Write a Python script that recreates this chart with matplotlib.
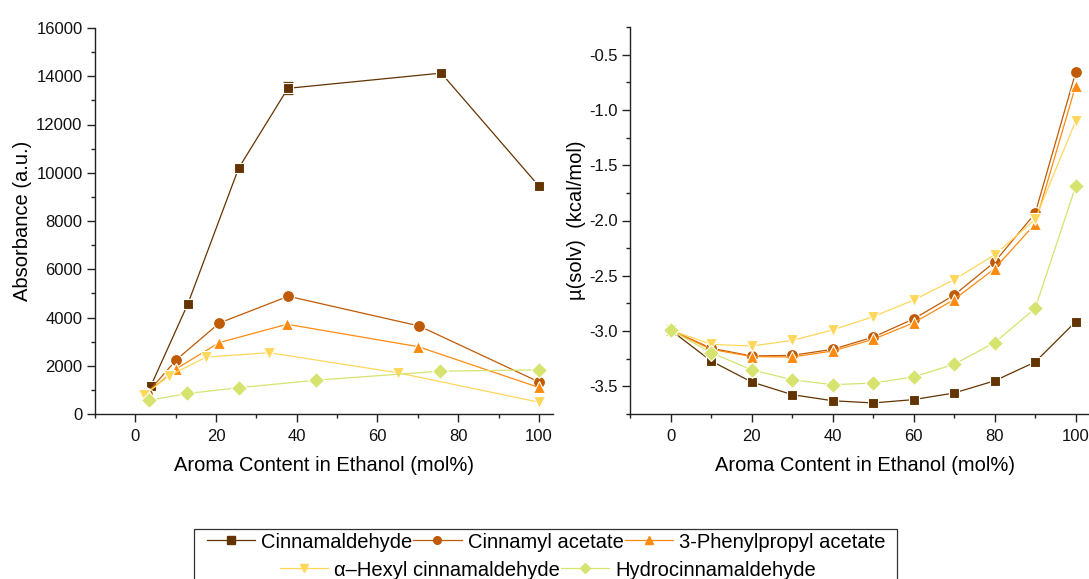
import matplotlib
matplotlib.use("Agg")
import matplotlib.pyplot as plt
from matplotlib.lines import Line2D
from matplotlib.patches import Rectangle
from matplotlib.ticker import MultipleLocator
import numpy as np

plt.rcParams['font.family'] = ['Liberation Sans', 'DejaVu Sans']
plt.rcParams['axes.unicode_minus'] = False

# ---- series names and colours ----
names = ["Cinnamaldehyde", "Cinnamyl acetate", "3-Phenylpropyl acetate",
         "\u03b1\u2013Hexyl cinnamaldehyde", "Hydrocinnamaldehyde"]
colors = ["#633400", "#BF5A05", "#FF8A10", "#FFD75A", "#D6E36E"]
markers = ["s", "o", "^", "v", "D"]

# ---- absorbance vs. aroma content (each compound has its own mole fractions) ----
abs_x_cinnamaldehyde = [3.8, 13.0, 25.6, 37.8, 75.8, 100]
abs_y_cinnamaldehyde = [1150, 4560, 10190, 13500, 14130, 9450]
abs_err_cinnamaldehyde = [0, 0, 0, 250, 0, 0]

abs_x_cinnamyl = [2.8, 10.1, 20.8, 37.9, 70.3, 100]
abs_y_cinnamyl = [840, 2240, 3770, 4880, 3650, 1330]
abs_err_cinnamyl = [120, 0, 0, 0, 0, 0]

abs_x_phenylpropyl = [2.8, 10.1, 20.8, 37.6, 70.1, 100]
abs_y_phenylpropyl = [860, 1870, 2960, 3720, 2790, 1100]

abs_x_hexyl = [2.2, 8.4, 17.6, 33.2, 65.0, 100]
abs_y_hexyl = [790, 1590, 2360, 2540, 1710, 490]

abs_x_hydro = [3.5, 12.9, 25.7, 44.7, 75.4, 100]
abs_y_hydro = [570, 850, 1090, 1400, 1775, 1830]

# ---- solvation chemical potential vs. aroma content ----
mu_x = [0, 10, 20, 30, 40, 50, 60, 70, 80, 90, 100]
mu_cinnamaldehyde = [-2.99, -3.27, -3.46, -3.575, -3.63, -3.65, -3.62, -3.56, -3.45, -3.28, -2.915]
mu_cinnamyl = [-2.99, -3.155, -3.225, -3.22, -3.165, -3.055, -2.89, -2.675, -2.375, -1.935, -0.66]
mu_phenylpropyl = [-2.99, -3.165, -3.23, -3.235, -3.18, -3.075, -2.925, -2.715, -2.435, -2.03, -0.78]
mu_hexyl = [-2.99, -3.12, -3.135, -3.085, -2.99, -2.87, -2.72, -2.535, -2.31, -1.99, -1.10]
mu_hydro = [-2.99, -3.195, -3.35, -3.44, -3.485, -3.47, -3.415, -3.30, -3.105, -2.795, -1.69]

abs_sets = [
    (abs_x_cinnamaldehyde, abs_y_cinnamaldehyde, abs_err_cinnamaldehyde),
    (abs_x_cinnamyl, abs_y_cinnamyl, abs_err_cinnamyl),
    (abs_x_phenylpropyl, abs_y_phenylpropyl, None),
    (abs_x_hexyl, abs_y_hexyl, None),
    (abs_x_hydro, abs_y_hydro, None),
]
mu_sets = [mu_cinnamaldehyde, mu_cinnamyl, mu_phenylpropyl, mu_hexyl, mu_hydro]

W, H = 1089, 579
fig = plt.figure(figsize=(W / 100, H / 100), dpi=100)


def px_rect(left, top, right, bottom):
    return [left / W, 1 - bottom / H, (right - left) / W, (bottom - top) / H]


ax1 = fig.add_axes(px_rect(95, 28, 553, 414))
ax2 = fig.add_axes(px_rect(630, 27, 1100, 414))

sizes = {"s": 7.3, "o": 8.6, "^": 9.2, "v": 9.2, "D": 7.8}
for i, (xs, ys, err) in enumerate(abs_sets):
    ax1.plot(xs, ys, color=colors[i], lw=0.9, marker=markers[i],
             ms=sizes[markers[i]], mec="white", mew=0.8, mfc=colors[i],
             zorder=3 + i)
    if err is not None:
        e = np.array(err, dtype=float)
        keep = e > 0
        ax1.errorbar(np.array(xs)[keep], np.array(ys)[keep], yerr=e[keep],
                     fmt="none", ecolor=colors[i], elinewidth=0.9,
                     capsize=3.5, capthick=0.9, zorder=2.5 + i)

for i, ys in enumerate(mu_sets):
    ax2.plot(mu_x, ys, color=colors[i], lw=0.9, marker=markers[i],
             ms=sizes[markers[i]], mec="white", mew=0.8, mfc=colors[i],
             zorder=3 + i)

ax1.set_xlim(-10, 103.5)
ax1.set_ylim(0, 16000)
ax1.xaxis.set_major_locator(MultipleLocator(20))
ax1.xaxis.set_minor_locator(MultipleLocator(10))
ax1.yaxis.set_major_locator(MultipleLocator(2000))
ax1.yaxis.set_minor_locator(MultipleLocator(1000))
ax1.set_ylabel("Absorbance (a.u.)", fontsize=14.5, labelpad=3)

ax2.set_xlim(-10, 106)
ax2.set_ylim(-3.75, -0.25)
ax2.xaxis.set_major_locator(MultipleLocator(20))
ax2.xaxis.set_minor_locator(MultipleLocator(10))
ax2.yaxis.set_major_locator(MultipleLocator(0.5))
ax2.yaxis.set_minor_locator(MultipleLocator(0.25))
ax2.yaxis.set_major_formatter(plt.FormatStrFormatter("%.1f"))
ax2.set_ylabel("\u00b5(solv)  (kcal/mol)", fontsize=14.5, labelpad=2)

for ax in (ax1, ax2):
    for s in ("top", "right"):
        ax.spines[s].set_visible(False)
    for s in ("left", "bottom"):
        ax.spines[s].set_linewidth(1.0)
        ax.spines[s].set_color("#222222")
    ax.tick_params(which="major", direction="out", length=5.5, width=1.0,
                   labelsize=12, colors="#222222", labelcolor="#111111")
    ax.tick_params(which="minor", direction="out", length=3, width=1.0,
                   colors="#222222")
    ax.tick_params(axis="x", which="major", pad=5)
    ax.set_xlabel("Aroma Content in Ethanol (mol%)", fontsize=14.5, labelpad=9)

# ---- legend: two centred rows inside one box ----
handles = [Line2D([], [], color=colors[i], lw=0.9, marker=markers[i],
                  ms=5.5 if markers[i] != "D" else 5, mfc=colors[i], mec=colors[i])
           for i in range(5)]
row_kw = dict(loc="center", frameon=False, fontsize=14.5, handlelength=2.4,
              handletextpad=0.3, columnspacing=0.05, borderpad=0,
              borderaxespad=0)
fig.legend(handles[:3], names[:3], ncol=3,
           bbox_to_anchor=(546 / W, 1 - 542 / H), **row_kw)
fig.legend(handles[3:], names[3:], ncol=2,
           bbox_to_anchor=(548 / W, 1 - 570 / H), **row_kw)
fig.add_artist(Rectangle((194 / W, -0.05), (897 - 194) / W, 0.05 + (1 - 529 / H),
                         transform=fig.transFigure, fill=False,
                         lw=0.9, edgecolor="#333333"))

fig.savefig("out.png", dpi=100)
